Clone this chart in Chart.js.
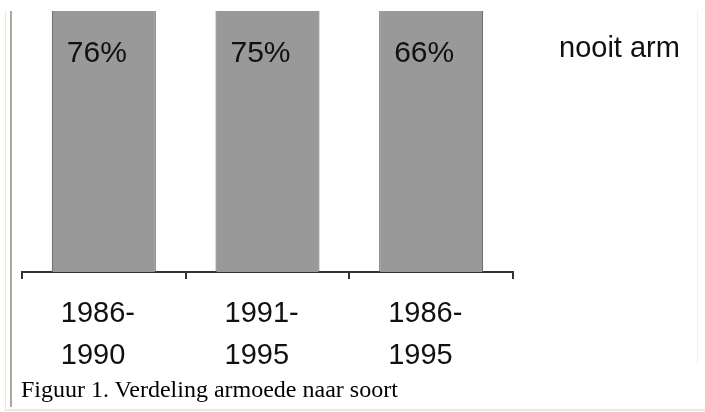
<!DOCTYPE html>
<html>
<head>
<meta charset="utf-8">
<script src="https://cdn.jsdelivr.net/npm/chart.js@4/dist/chart.umd.min.js"></script>
<style>
  html, body { margin: 0; padding: 0; background: #fff; }
  #wrap { position: relative; width: 705px; height: 412px; overflow: hidden; }
  #chart { position: absolute; left: 0; top: 0; }
  .line { position: absolute; }
  #caption {
    position: absolute; left: 21px; top: 377px;
    font-family: "Liberation Serif", "Times New Roman", serif;
    font-size: 24px; line-height: 24px; color: #000; white-space: nowrap;
  }
</style>
</head>
<body>
<div id="wrap">
  <canvas id="chart" width="705" height="412"></canvas>
  <div class="line" style="left:5px;top:11px;width:1px;height:400px;background:#ece9d8"></div>
  <div class="line" style="left:10px;top:11px;width:2px;height:396px;background:#aca899"></div>
  <div class="line" style="left:5px;top:409px;width:700px;height:2px;background:#ece9d8"></div>
  <div class="line" style="left:697px;top:10px;width:1px;height:354px;background:#f0f0f0"></div>
  <div id="caption">Figuur 1. Verdeling armoede naar soort</div>
</div>
<script>
// categories (two-line tick labels) and the visible series
const periods = [['1986-', '1990'], ['1991-', '1995'], ['1986-', '1995']]
const nooitArm = [76, 75, 66]
const seriesLabel = 'nooit arm'

// percentage labels near the top of each bar
const barLabels = {
  id: 'barLabels',
  afterDatasetsDraw(chart) {
    const ctx = chart.ctx
    const meta = chart.getDatasetMeta(0)
    ctx.save()
    ctx.font = '30px "Liberation Sans", Arial, sans-serif'
    ctx.fillStyle = '#111'
    ctx.textAlign = 'center'
    ctx.textBaseline = 'alphabetic'
    meta.data.forEach((bar, i) => {
      ctx.fillText(chart.data.datasets[0].data[i] + '%', bar.x - 7, chart.chartArea.top + 51)
    })
    ctx.restore()
  }
}

// legend text only, no colour box
const legendText = {
  id: 'legendText',
  afterDraw(chart) {
    const ctx = chart.ctx
    ctx.save()
    ctx.font = '29px "Liberation Sans", Arial, sans-serif'
    ctx.fillStyle = '#111'
    ctx.textAlign = 'left'
    ctx.textBaseline = 'alphabetic'
    ctx.fillText(chart.data.datasets[0].label, chart.chartArea.right + 46, chart.chartArea.top + 46)
    ctx.restore()
  }
}

const ctx = document.getElementById('chart').getContext('2d')
new Chart(ctx, {
  type: 'bar',
  data: {
    labels: periods,
    datasets: [{
      label: seriesLabel,
      data: nooitArm,
      backgroundColor: '#999999',
      borderColor: '#555555',
      borderWidth: 1,
      borderSkipped: 'bottom',
      categoryPercentage: 1,
      barPercentage: 0.635,
      clip: 0
    }]
  },
  options: {
    responsive: false,
    animation: false,
    layout: { padding: { left: 22, right: 192, top: 11, bottom: 21 } },
    plugins: {
      legend: { display: false },
      tooltip: { enabled: false }
    },
    scales: {
      x: {
        grid: {
          display: true,
          drawOnChartArea: false,
          drawTicks: true,
          tickLength: 7,
          color: '#333',
          lineWidth: 2
        },
        border: { display: true, color: '#333', width: 2 },
        ticks: {
          color: '#111',
          align: 'start',
          labelOffset: -43,
          padding: 14,
          font: { family: '"Liberation Sans", Arial, sans-serif', size: 29, lineHeight: 42 / 29 }
        }
      },
      y: {
        display: false,
        min: 0,
        max: 60
      }
    }
  },
  plugins: [barLabels, legendText]
})
</script>
</body>
</html>
